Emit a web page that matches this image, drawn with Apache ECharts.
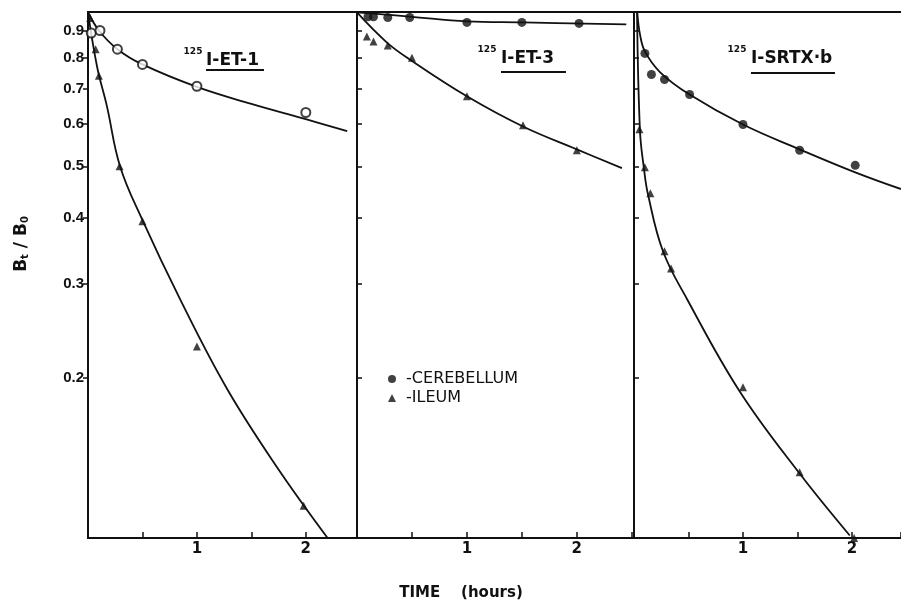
<!DOCTYPE html>
<html>
<head>
<meta charset="utf-8">
<script src="https://cdn.jsdelivr.net/npm/echarts@6/dist/echarts.min.js"></script>
<style>html,body{margin:0;padding:0;background:#fff}#c{width:901px;height:601px}</style>
</head>
<body>
<div id="c"></div>
<script>
// ---- data (time in hours, Bt/B0) ----
const panelTitles = ['I-ET-1', 'I-ET-3', 'I-SRTX\u00b7b'];
const isotope = '125';
const yTickValues = [0.2, 0.3, 0.4, 0.5, 0.6, 0.7, 0.8, 0.9];
const xLabelValues = [1, 2];
const seriesNames = ['CEREBELLUM', 'ILEUM'];

// Panel 1: 125I-ET-1
const cereET1 = [[0.03, 0.89], [0.11, 0.90], [0.27, 0.83], [0.5, 0.777], [1.0, 0.707], [2.0, 0.631]];
const ileumET1 = [[0.02, 0.95], [0.07, 0.83], [0.1, 0.74], [0.29, 0.50], [0.5, 0.394], [1.0, 0.229], [1.98, 0.115]];
const cereFitET1 = [[0, 0.975], [0.1, 0.90], [0.27, 0.83], [0.5, 0.777], [1.0, 0.705], [1.5, 0.655], [2.0, 0.613], [2.38, 0.582]];
const ileumFitET1 = [[0, 0.973], [0.083, 0.77], [0.174, 0.648], [0.294, 0.50], [0.495, 0.398], [0.844, 0.2815], [1.275, 0.191], [1.734, 0.136], [2.2, 0.1]];

// Panel 2: 125I-ET-3
const cereET3 = [[0.1, 0.955], [0.15, 0.955], [0.28, 0.952], [0.48, 0.952], [1.0, 0.932], [1.5, 0.932], [2.02, 0.928]];
const ileumET3 = [[0.09, 0.877], [0.15, 0.858], [0.28, 0.843], [0.5, 0.80], [1.0, 0.677], [1.51, 0.597], [2.0, 0.536]];
const cereFitET3 = [[0, 0.973], [0.48, 0.956], [1.0, 0.936], [1.51, 0.932], [2.45, 0.924]];
const ileumFitET3 = [[0, 0.973], [0.27, 0.855], [0.48, 0.794], [1.0, 0.677], [1.51, 0.594], [2.0, 0.538], [2.41, 0.496]];

// Panel 3: 125I-SRTX-b
const cereSRTX = [[0.1, 0.815], [0.16, 0.744], [0.28, 0.728], [0.51, 0.682], [1.0, 0.599], [1.52, 0.536], [2.03, 0.502]];
const ileumSRTX = [[0.05, 0.587], [0.1, 0.498], [0.15, 0.445], [0.28, 0.346], [0.34, 0.321], [1.0, 0.192], [1.52, 0.133], [2.02, 0.1]];
const cereFitSRTX = [[0.03, 0.973], [0.055, 0.885], [0.10, 0.822], [0.24, 0.751], [0.51, 0.682], [1.0, 0.599], [1.52, 0.538], [2.03, 0.487], [2.45, 0.453]];
const ileumFitSRTX = [[0.028, 0.973], [0.055, 0.582], [0.092, 0.494], [0.128, 0.443], [0.266, 0.346], [0.486, 0.2815], [0.972, 0.1884], [1.52, 0.1322], [1.98, 0.1011]];

const cerePoints = [cereET1, cereET3, cereSRTX];
const ileumPoints = [ileumET1, ileumET3, ileumSRTX];
const cereFits = [cereFitET1, cereFitET3, cereFitSRTX];
const ileumFits = [ileumFitET1, ileumFitET3, ileumFitSRTX];

// ---- layout ----
const INK = '#111';
const FONT = '"DejaVu Sans", sans-serif';
const gridBoxes = [
  { left: 88, width: 269, xMax: 2.47, border: true },
  { left: 357, width: 277, xMax: 2.52, border: true },
  { left: 634, width: 267, xMax: 2.45, border: false }
];

const grid = [], xAxis = [], yAxis = [], series = [];
gridBoxes.forEach((g, i) => {
  grid.push({ left: g.left, top: 12, width: g.width, height: 526, show: g.border,
    outerBoundsMode: 'none', containLabel: false,
    borderColor: INK, borderWidth: 2, backgroundColor: 'transparent' });
  xAxis.push({
    type: 'value', gridIndex: i, min: 0, max: g.xMax, interval: 0.5,
    axisLine: { show: true, lineStyle: { color: INK, width: 2 } },
    axisTick: { show: true, inside: true, length: 6, lineStyle: { color: INK, width: 1.5 } },
    splitLine: { show: false },
    axisLabel: { show: true, margin: 4, color: INK, fontSize: 15, fontWeight: 'bold', fontFamily: FONT,
      formatter: v => xLabelValues.indexOf(Math.round(v * 100) / 100) >= 0 ? String(Math.round(v)) : '' }
  });
  yAxis.push({
    type: 'log', logBase: 10, gridIndex: i, min: 0.1, max: 0.975,
    axisLine: { show: true, lineStyle: { color: INK, width: 2 } },
    axisTick: { show: true, inside: i > 0, length: 5, customValues: yTickValues, lineStyle: { color: INK, width: 1.5 } },
    minorTick: { show: false },
    splitLine: { show: false },
    axisLabel: { show: i === 0, customValues: yTickValues, margin: 4, color: INK, fontSize: 15,
      fontWeight: 'bold', fontFamily: '"Liberation Sans", Arial, sans-serif',
      formatter: v => Number(v).toFixed(1) }
  });
  const lineBase = { type: 'line', xAxisIndex: i, yAxisIndex: i, showSymbol: false, symbol: 'none',
    smooth: 0.4, silent: true, clip: false,
    lineStyle: { color: INK, width: 1.8 }, z: 2 };
  series.push(Object.assign({}, lineBase, { data: cereFits[i] }));
  series.push(Object.assign({}, lineBase, { data: ileumFits[i] }));
  series.push({ type: 'scatter', name: seriesNames[0], xAxisIndex: i, yAxisIndex: i, data: cerePoints[i],
    symbol: 'circle', symbolSize: 9, clip: false, z: 3,
    itemStyle: i === 0 ? { color: '#fff', borderColor: INK, borderWidth: 2 } : { color: INK } });
  series.push({ type: 'scatter', name: seriesNames[1], xAxisIndex: i, yAxisIndex: i, data: ileumPoints[i],
    symbol: 'triangle', symbolSize: 8, clip: false, z: 3, itemStyle: { color: INK } });
});
// top border for the last (open-ended) panel
xAxis.push({ type: 'value', gridIndex: 2, position: 'top', min: 0, max: 2.45,
  axisLine: { show: true, lineStyle: { color: INK, width: 2 } },
  axisTick: { show: false }, axisLabel: { show: false }, splitLine: { show: false } });

// panel titles
const titlePos = [
  { sup: [193, 52], x: 206, y: 61, ul: [206, 264, 70] },
  { sup: [487, 50], x: 501, y: 59, ul: [501, 566, 72] },
  { sup: [737, 50], x: 751, y: 59, ul: [751, 835, 73] }
];
const graphic = [];
titlePos.forEach((t, i) => {
  graphic.push({ type: 'text', x: t.sup[0], y: t.sup[1], silent: true,
    style: { text: isotope, font: 'bold 9px ' + FONT, fill: INK, textAlign: 'center', textVerticalAlign: 'middle' } });
  graphic.push({ type: 'text', x: t.x, y: t.y, silent: true,
    style: { text: panelTitles[i], font: 'bold 17px ' + FONT, fill: INK, textAlign: 'left', textVerticalAlign: 'middle' } });
  graphic.push({ type: 'line', silent: true, shape: { x1: t.ul[0], y1: t.ul[2], x2: t.ul[1], y2: t.ul[2] },
    style: { stroke: INK, lineWidth: 2 } });
});
// axis title
graphic.push({ type: 'text', x: 461, y: 593, silent: true,
  style: { text: 'TIME    (hours)', font: 'bold 15px ' + FONT, fill: INK, textAlign: 'center', textVerticalAlign: 'middle' } });
// y label (rotated)
graphic.push({ type: 'text', x: 22, y: 244, rotation: Math.PI / 2, silent: true,
  style: { text: '{b|B}{s|t}{b| / B}{s|0}', fill: INK, textAlign: 'center', textVerticalAlign: 'middle',
    rich: { b: { font: 'bold 17px ' + FONT, fill: INK, color: INK },
            s: { font: 'bold 10px ' + FONT, fill: INK, color: INK, verticalAlign: 'bottom' } } } });

const chart = echarts.init(document.getElementById('c'), null, { renderer: 'canvas' });
chart.setOption({
  animation: false,
  backgroundColor: '#fff',
  grid, xAxis, yAxis, series, graphic,
  legend: {
    left: 383, top: 366, orient: 'vertical', itemWidth: 8, itemHeight: 8, itemGap: 3,
    selectedMode: false,
    data: [
      { name: seriesNames[0], icon: 'circle', itemStyle: { color: INK, borderWidth: 0 } },
      { name: seriesNames[1], icon: 'triangle', itemStyle: { color: INK, borderWidth: 0 } }
    ],
    formatter: n => ' -' + n,
    textStyle: { color: INK, fontSize: 16, fontFamily: FONT, padding: [0, 0, 0, 0] }
  }
});
</script>
</body>
</html>
